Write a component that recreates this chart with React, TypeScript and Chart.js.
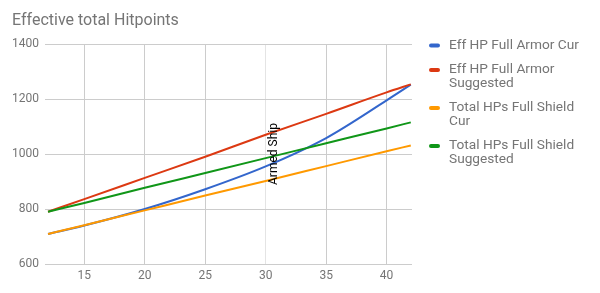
import React, { useEffect, useRef } from 'react';
import { Chart, registerables } from 'chart.js';

Chart.register(...registerables);

const chartTitle = 'Effective total Hitpoints';
const xValues = [12, 15, 20, 25, 30, 35, 40, 42];
const effHpArmorCur = [709, 740, 800, 872, 955, 1058, 1195, 1252];
const effHpArmorSuggested = [790, 836, 913, 990, 1070, 1146, 1224, 1253];
const totalHpShieldCur = [709, 741, 795, 849, 902, 956, 1010, 1031];
const totalHpShieldSuggested = [790, 822, 877, 931, 985, 1039, 1093, 1115];
const seriesLabels = [
  ['Eff HP Full Armor Cur'],
  ['Eff HP Full Armor', 'Suggested'],
  ['Total HPs Full Shield', 'Cur'],
  ['Total HPs Full Shield', 'Suggested'],
];
const seriesColors = ['#3366cc', '#dc3912', '#ff9900', '#109618'];
const xTickValues = [15, 20, 25, 30, 35, 40];
const yTickValues = [600, 800, 1000, 1200, 1400];
const annotationX = 30;
const annotationText = 'Armed Ship';

const FONT = 'Roboto';
const TEXT_COLOR = '#757575';
const GRID_COLOR = '#cccccc';

const overlayPlugin = {
  id: 'overlay',
  afterDraw(chart: any) {
    const ctx = chart.ctx as CanvasRenderingContext2D;
    const area = chart.chartArea;
    ctx.save();
    // title
    ctx.font = `16px ${FONT}`;
    ctx.fillStyle = TEXT_COLOR;
    ctx.textAlign = 'left';
    ctx.textBaseline = 'middle';
    ctx.fillText(chartTitle, 12, 20.5);

    // legend
    const markerX = area.right + 17;
    const textX = area.right + 37;
    let y = 45.5;
    ctx.font = `13.7px ${FONT}`;
    seriesLabels.forEach((lines, i) => {
      ctx.strokeStyle = seriesColors[i];
      ctx.lineWidth = 4;
      ctx.lineCap = 'round';
      ctx.beginPath();
      ctx.moveTo(markerX + 2, y);
      ctx.lineTo(markerX + 9, y);
      ctx.stroke();
      ctx.fillStyle = TEXT_COLOR;
      lines.forEach((line, j) => {
        ctx.fillText(line, textX, y + j * 13.5);
      });
      y += lines.length * 13.5 + 11;
    });

    // annotation
    const ax = chart.scales.x.getPixelForValue(annotationX);
    const ay = (area.top + area.bottom) / 2;
    ctx.translate(ax + 2, ay);
    ctx.rotate(-Math.PI / 2);
    ctx.font = `12px ${FONT}`;
    ctx.fillStyle = '#000000';
    ctx.textAlign = 'center';
    ctx.textBaseline = 'top';
    ctx.fillText(annotationText, 0, 0);
    ctx.restore();
  },
};

export default function App() {
  const canvasRef = useRef<HTMLCanvasElement | null>(null);

  useEffect(() => {
    const canvas = canvasRef.current;
    if (!canvas) return;
    const series = [effHpArmorCur, effHpArmorSuggested, totalHpShieldCur, totalHpShieldSuggested];
    const chart = new Chart(canvas, {
      type: 'line',
      data: {
        datasets: series.map((vals, i) => ({
          label: seriesLabels[i].join(' '),
          data: xValues.map((x, k) => ({ x, y: vals[k] })),
          borderColor: seriesColors[i],
          backgroundColor: seriesColors[i],
          borderWidth: 2,
          pointRadius: 0,
          cubicInterpolationMode: 'monotone' as const,
          fill: false,
          order: series.length - i,
        })),
      },
      options: {
        responsive: false,
        animation: false,
        layout: { padding: { left: 0, right: 188, top: 44, bottom: 0 } },
        plugins: {
          legend: { display: false },
          title: { display: false },
          tooltip: { enabled: false },
        },
        scales: {
          x: {
            type: 'linear',
            min: 11.75,
            max: 42.1,
            afterBuildTicks: (s: any) => {
              s.ticks = xTickValues.map((v) => ({ value: v }));
            },
            afterFit: (s: any) => {
              s.height = 29;
            },
            grid: {
              color: (c: any) => (c.tick && c.tick.value === annotationX ? '#e4e4e4' : GRID_COLOR),
              drawTicks: false,
            },
            border: { display: false },
            ticks: {
              font: { family: FONT, size: 12 },
              color: TEXT_COLOR,
              padding: 5,
              maxRotation: 0,
              callback: (v: any) => String(v),
            },
          },
          y: {
            type: 'linear',
            min: 600,
            max: 1400,
            afterBuildTicks: (s: any) => {
              s.ticks = yTickValues.map((v) => ({ value: v }));
            },
            afterFit: (s: any) => {
              s.width = 45;
            },
            grid: { color: GRID_COLOR, drawTicks: false },
            border: { display: false },
            ticks: {
              font: { family: FONT, size: 12 },
              color: TEXT_COLOR,
              padding: 6,
              callback: (v: any) => String(v),
            },
          },
        },
      },
      plugins: [overlayPlugin],
    });
    return () => chart.destroy();
  }, []);

  return (
    <div style={{ position: 'absolute', left: 0, top: 0, width: 600, height: 293, background: '#ffffff' }}>
      <canvas ref={canvasRef} width={600} height={293} style={{ display: 'block', width: 600, height: 293 }} />
    </div>
  );
}
